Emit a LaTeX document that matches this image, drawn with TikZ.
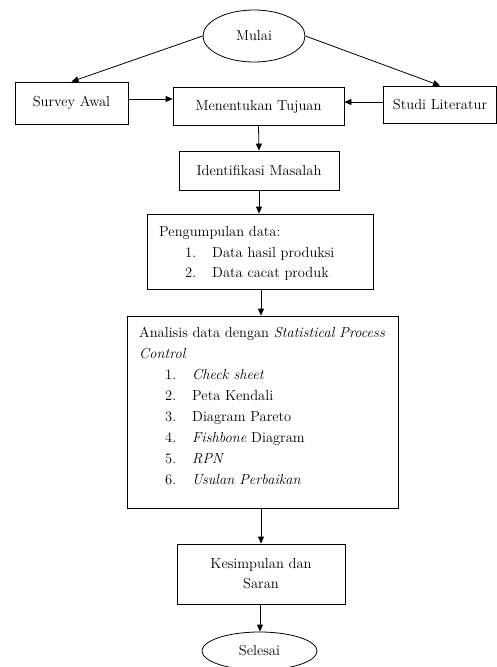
\documentclass[tikz,border=0pt]{standalone}
\usetikzlibrary{shapes.geometric,arrows.meta}
\begin{document}
\begin{tikzpicture}[x=1pt,y=-1pt,
  font=\fontsize{14.5}{17}\selectfont,
  box/.style={draw,line width=0.8pt,rectangle,inner sep=0pt},
  oval/.style={draw,line width=0.8pt,ellipse,inner sep=0pt},
  arr/.style={line width=0.8pt,-{Triangle[length=7pt,width=6pt]}},
  txt/.style={anchor=base west,inner sep=0pt}]
\useasboundingbox (0,0) rectangle (497,667);
\node[oval,minimum width=102pt,minimum height=52pt] (mulai) at (254,36) {Mulai};
\node[box,minimum width=113pt,minimum height=42pt] (survey) at (71.5,103) {Survey Awal};
\node[box,minimum width=171pt,minimum height=38pt] (tujuan) at (258.5,106.5) {Menentukan Tujuan};
\node[box,minimum width=113pt,minimum height=37pt] (studi) at (440,104.5) {Studi Literatur};
\node[box,minimum width=160pt,minimum height=39pt] (ident) at (259,170.5) {Identifikasi Masalah};
\node[box,minimum width=226pt,minimum height=75pt] (kumpul) at (260,251.5) {};
\node[txt] (k1) at (159,236) {Pengumpulan data:};
\node[txt] (k2n) at (185,257) {1.};
\node[txt] (k2) at (212,257) {Data hasil produksi};
\node[txt] (k3n) at (185,277) {2.};
\node[txt] (k3) at (212,277) {Data cacat produk};
\node[box,minimum width=271pt,minimum height=192pt] (analisis) at (262.5,412) {};
\node[txt] (a1) at (139,337) {Analisis data dengan \textit{Statistical Process}};
\node[txt] (a2) at (139,358) {\textit{Control}};
\node[txt] (a3n) at (165,379) {1.};
\node[txt] (a3) at (192,379) {\textit{Check sheet}};
\node[txt] (a4n) at (165,400) {2.};
\node[txt] (a4) at (192,400) {Peta Kendali};
\node[txt] (a5n) at (165,421) {3.};
\node[txt] (a5) at (192,421) {Diagram Pareto};
\node[txt] (a6n) at (165,442) {4.};
\node[txt] (a6) at (192,442) {\textit{Fishbone} Diagram};
\node[txt] (a7n) at (165,463) {5.};
\node[txt] (a7) at (192,463) {\textit{RPN}};
\node[txt] (a8n) at (165,484) {6.};
\node[txt] (a8) at (192,484) {\textit{Usulan Perbaikan}};
\node[box,minimum width=168pt,minimum height=60pt,align=center] (simpul) at (261,574) {Kesimpulan dan\\[3pt]Saran};
\node[oval,minimum width=115pt,minimum height=38pt] (selesai) at (259.5,651) {Selesai};
\draw[arr] (mulai.west) -- (survey.north);
\draw[arr] (mulai.east) -- (studi.north);
\draw[arr] (survey.east |- 0,99) -- (tujuan.west |- 0,99);
\draw[arr] (studi.west |- 0,102) -- (tujuan.east |- 0,102);
\draw[arr] (tujuan.south) -- (ident.north);
\draw[arr] (ident.south) -- (ident.south |- kumpul.north);
\draw[arr] (kumpul.south -| 261,0) -- (analisis.north -| 261,0);
\draw[arr] (analisis.south -| 261,0) -- (simpul.north -| 261,0);
\draw[arr] (simpul.south -| 260,0) -- (selesai.north -| 260,0);
\end{tikzpicture}
\end{document}
